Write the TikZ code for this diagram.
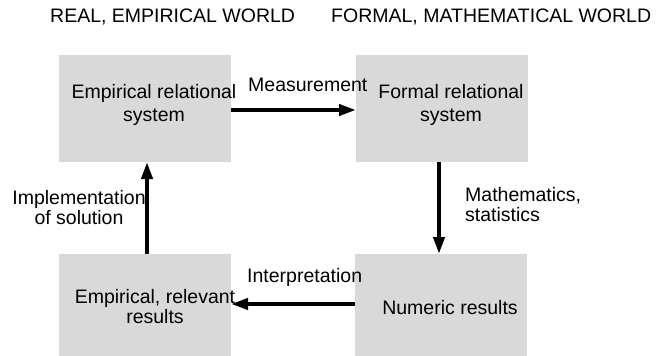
\documentclass[tikz,border=0pt]{standalone}
\usepackage{fontspec}
\setmainfont{Liberation Sans}
\usetikzlibrary{arrows.meta,calc}
\begin{document}
\begin{tikzpicture}[x=1pt,y=-1pt,
  box/.style={fill=boxgray,draw=none,minimum width=172pt,inner sep=0pt,outer sep=0pt},
  txt/.style={font=\fontsize{19.5}{20}\selectfont,inner sep=0pt,align=center},
  arr/.style={line width=4pt,-{Triangle[length=17pt,width=11pt]}}]
\definecolor{boxgray}{HTML}{D9D9D9}
\useasboundingbox[fill=white] (0,0) rectangle (659,356);
\node[box,minimum height=107pt] (ers) at (145,108.5) {};
\node[box,minimum height=107pt] (frs) at (442,108.5) {};
\node[box,minimum height=102pt] (err) at (145,305) {};
\node[box,minimum height=102pt] (nr) at (441,305) {};
\node[txt,anchor=west] (t1) at (50,17) {REAL, EMPIRICAL WORLD};
\node[txt,anchor=west] (t2) at (331,17) {FORMAL, MATHEMATICAL WORLD};
\node[txt,font=\fontsize{19.5}{23}\selectfont] (l1) at (154,105) {Empirical relational\\system};
\node[txt,font=\fontsize{19.5}{23}\selectfont] (l2) at (451,105) {Formal relational\\system};
\node[txt] (l3) at (155,307) {Empirical, relevant\\results};
\node[txt] (l4) at (450,308) {Numeric results};
\node[txt,anchor=west] (m) at (248,85) {Measurement};
\node[txt,anchor=west] (ip) at (247,277) {Interpretation};
\node[txt,align=left,anchor=west] (ms) at (465,205) {Mathematics,\\statistics};
\node[txt] (im) at (79,207.5) {Implementation\\of solution};
\draw[arr] ($(ers.east)+(0,1.5)$) -- ($(frs.west)+(0,1.5)$);
\draw[arr] ($(frs.south)+(-3,0)$) -- ($(nr.north)+(-2,0)$);
\draw[arr] ($(nr.west)+(0,-1)$) -- ($(err.east)+(0,-1)$);
\draw[arr] ($(err.north)+(2,0)$) -- ($(ers.south)+(2,0)$);
\end{tikzpicture}
\end{document}
